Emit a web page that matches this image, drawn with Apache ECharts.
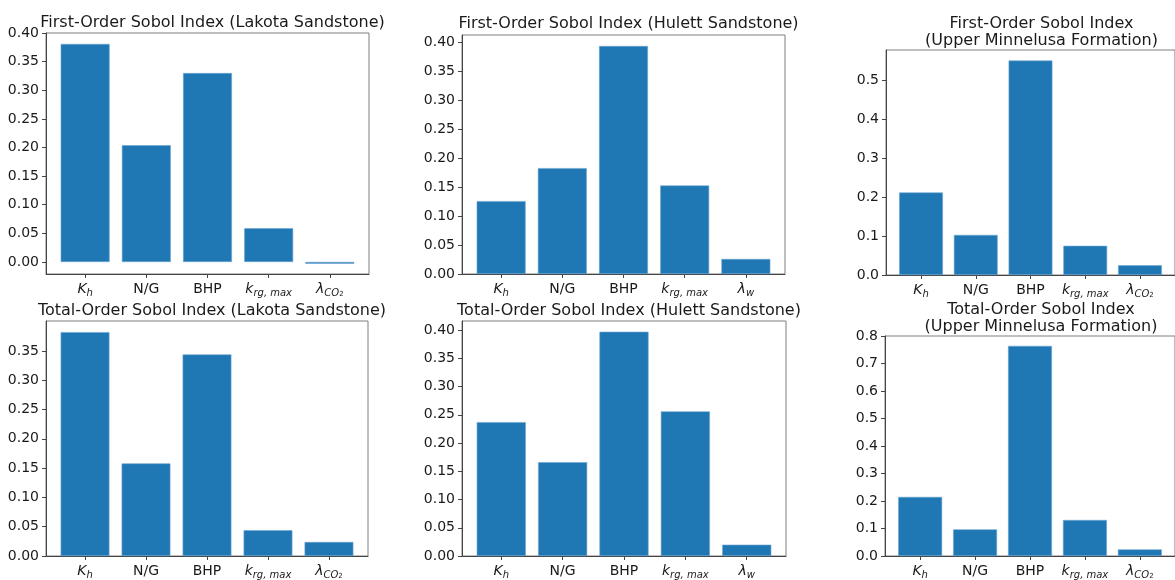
<!DOCTYPE html>
<html>
<head>
<meta charset="utf-8">
<script src="https://cdn.jsdelivr.net/npm/echarts@6/dist/echarts.min.js"></script>
<style>
  html, body { margin: 0; padding: 0; background: #fff; }
  #main { width: 1175px; height: 580px; }
</style>
</head>
<body>
<div id="main"></div>
<script>
// parameter names (rich text keys for the x tick labels)
var paramsCO2 = ['Kh', 'NG', 'BHP', 'krg', 'lamCO2'];
var paramsW = ['Kh', 'NG', 'BHP', 'krg', 'lamW'];

// sobol indices
var firstLakota = [0.381, 0.204, 0.330, 0.059, -0.003];
var firstHulett = [0.126, 0.183, 0.394, 0.153, 0.026];
var firstMinnelusa = [0.212, 0.103, 0.551, 0.075, 0.025];
var totalLakota = [0.382, 0.158, 0.344, 0.044, 0.024];
var totalHulett = [0.237, 0.166, 0.397, 0.256, 0.020];
var totalMinnelusa = [0.215, 0.097, 0.764, 0.131, 0.024];

// y tick values
var ticks040 = [0, 0.05, 0.10, 0.15, 0.20, 0.25, 0.30, 0.35, 0.40];
var ticks035 = [0, 0.05, 0.10, 0.15, 0.20, 0.25, 0.30, 0.35];
var ticks05 = [0, 0.1, 0.2, 0.3, 0.4, 0.5];
var ticks08 = [0, 0.1, 0.2, 0.3, 0.4, 0.5, 0.6, 0.7, 0.8];

var titles = [
    'First-Order Sobol Index (Lakota Sandstone)',
    'First-Order Sobol Index (Hulett Sandstone)',
    'First-Order Sobol Index\n(Upper Minnelusa Formation)',
    'Total-Order Sobol Index (Lakota Sandstone)',
    'Total-Order Sobol Index (Hulett Sandstone)',
    'Total-Order Sobol Index\n(Upper Minnelusa Formation)'
];

var tickText = {
    Kh: '{it|K}{sub|h}',
    NG: '{n|N/G}',
    BHP: '{n|BHP}',
    krg: '{it|k}{sub|rg, max}',
    lamCO2: '{it|λ}{sub|CO}{sub2|2}',
    lamW: '{it|λ}{sub|w}'
};

// panel layout (pixels)
var panels = [
    {left: 46, top: 33, width: 323, height: 241, min: -0.021, max: 0.40, ticks: ticks040, dec: 2, data: firstLakota, names: paramsCO2, titleTop: 9},
    {left: 462, top: 35, width: 323, height: 239, min: 0, max: 0.413, ticks: ticks040, dec: 2, data: firstHulett, names: paramsW, titleTop: 10},
    {left: 886, top: 50, width: 301, height: 225, min: 0, max: 0.578, ticks: ticks05, dec: 1, data: firstMinnelusa, names: paramsCO2, titleTop: 10},
    {left: 46, top: 321, width: 322, height: 239, min: 0, max: 0.401, ticks: ticks035, dec: 2, data: totalLakota, names: paramsCO2, titleTop: 297},
    {left: 462, top: 321, width: 324, height: 239, min: 0, max: 0.416, ticks: ticks040, dec: 2, data: totalHulett, names: paramsW, titleTop: 297},
    {left: 885, top: 336, width: 302, height: 225, min: 0, max: 0.80, ticks: ticks08, dec: 1, data: totalMinnelusa, names: paramsCO2, titleTop: 296}
];

var textColor = '#1a1a1a';
var lineColor = '#444';

var option = {
    animation: false,
    backgroundColor: '#fff',
    title: [],
    grid: [],
    xAxis: [],
    yAxis: [],
    series: []
};

panels.forEach(function (p, i) {
    option.title.push({
        text: titles[i],
        left: p.left + p.width / 2,
        top: p.titleTop,
        textAlign: 'center',
        textStyle: {
            fontFamily: 'DejaVu Sans',
            fontSize: 16,
            fontWeight: 'normal',
            color: textColor,
            lineHeight: 17
        }
    });
    option.grid.push({
        left: p.left,
        top: p.top,
        width: p.width,
        height: p.height,
        show: true,
        borderColor: '#7f7f7f',
        borderWidth: 1,
        backgroundColor: 'transparent'
    });
    var names = p.names;
    option.xAxis.push({
        gridIndex: i,
        type: 'value',
        min: -0.64,
        max: 4.64,
        splitLine: {show: false},
        axisLine: {show: true, onZero: false, lineStyle: {color: lineColor}},
        axisTick: {show: true, length: 4, customValues: [0, 1, 2, 3, 4], lineStyle: {color: lineColor}},
        axisLabel: {
            customValues: [0, 1, 2, 3, 4],
            margin: 6,
            formatter: function (v) {
                return tickText[names[Math.round(v)]];
            },
            rich: {
                n: {fontFamily: 'DejaVu Sans', fontSize: 14, color: textColor, lineHeight: 18},
                it: {fontFamily: 'DejaVu Sans', fontStyle: 'italic', fontSize: 14, color: textColor, lineHeight: 18},
                sub: {fontFamily: 'DejaVu Sans', fontStyle: 'italic', fontSize: 10, color: textColor, verticalAlign: 'bottom', lineHeight: 14},
                sub2: {fontFamily: 'DejaVu Sans', fontSize: 7, color: textColor, verticalAlign: 'bottom', lineHeight: 11}
            }
        }
    });
    option.yAxis.push({
        gridIndex: i,
        type: 'value',
        min: p.min,
        max: p.max,
        splitLine: {show: false},
        axisLine: {show: true, onZero: false, lineStyle: {color: lineColor}},
        axisTick: {show: true, length: 4, customValues: p.ticks, lineStyle: {color: lineColor}},
        axisLabel: {
            customValues: p.ticks,
            margin: 7,
            fontFamily: 'DejaVu Sans',
            fontSize: 14,
            color: textColor,
            formatter: function (v) { return v.toFixed(p.dec); }
        }
    });
    option.series.push({
        type: 'bar',
        xAxisIndex: i,
        yAxisIndex: i,
        barWidth: '80%',
        itemStyle: {color: '#1f77b4', borderColor: '#6ea6d3', borderWidth: 0.6},
        data: p.data.map(function (v, k) { return [k, v]; })
    });
});

var myChart = echarts.init(document.getElementById('main'));
myChart.setOption(option);
</script>
</body>
</html>
